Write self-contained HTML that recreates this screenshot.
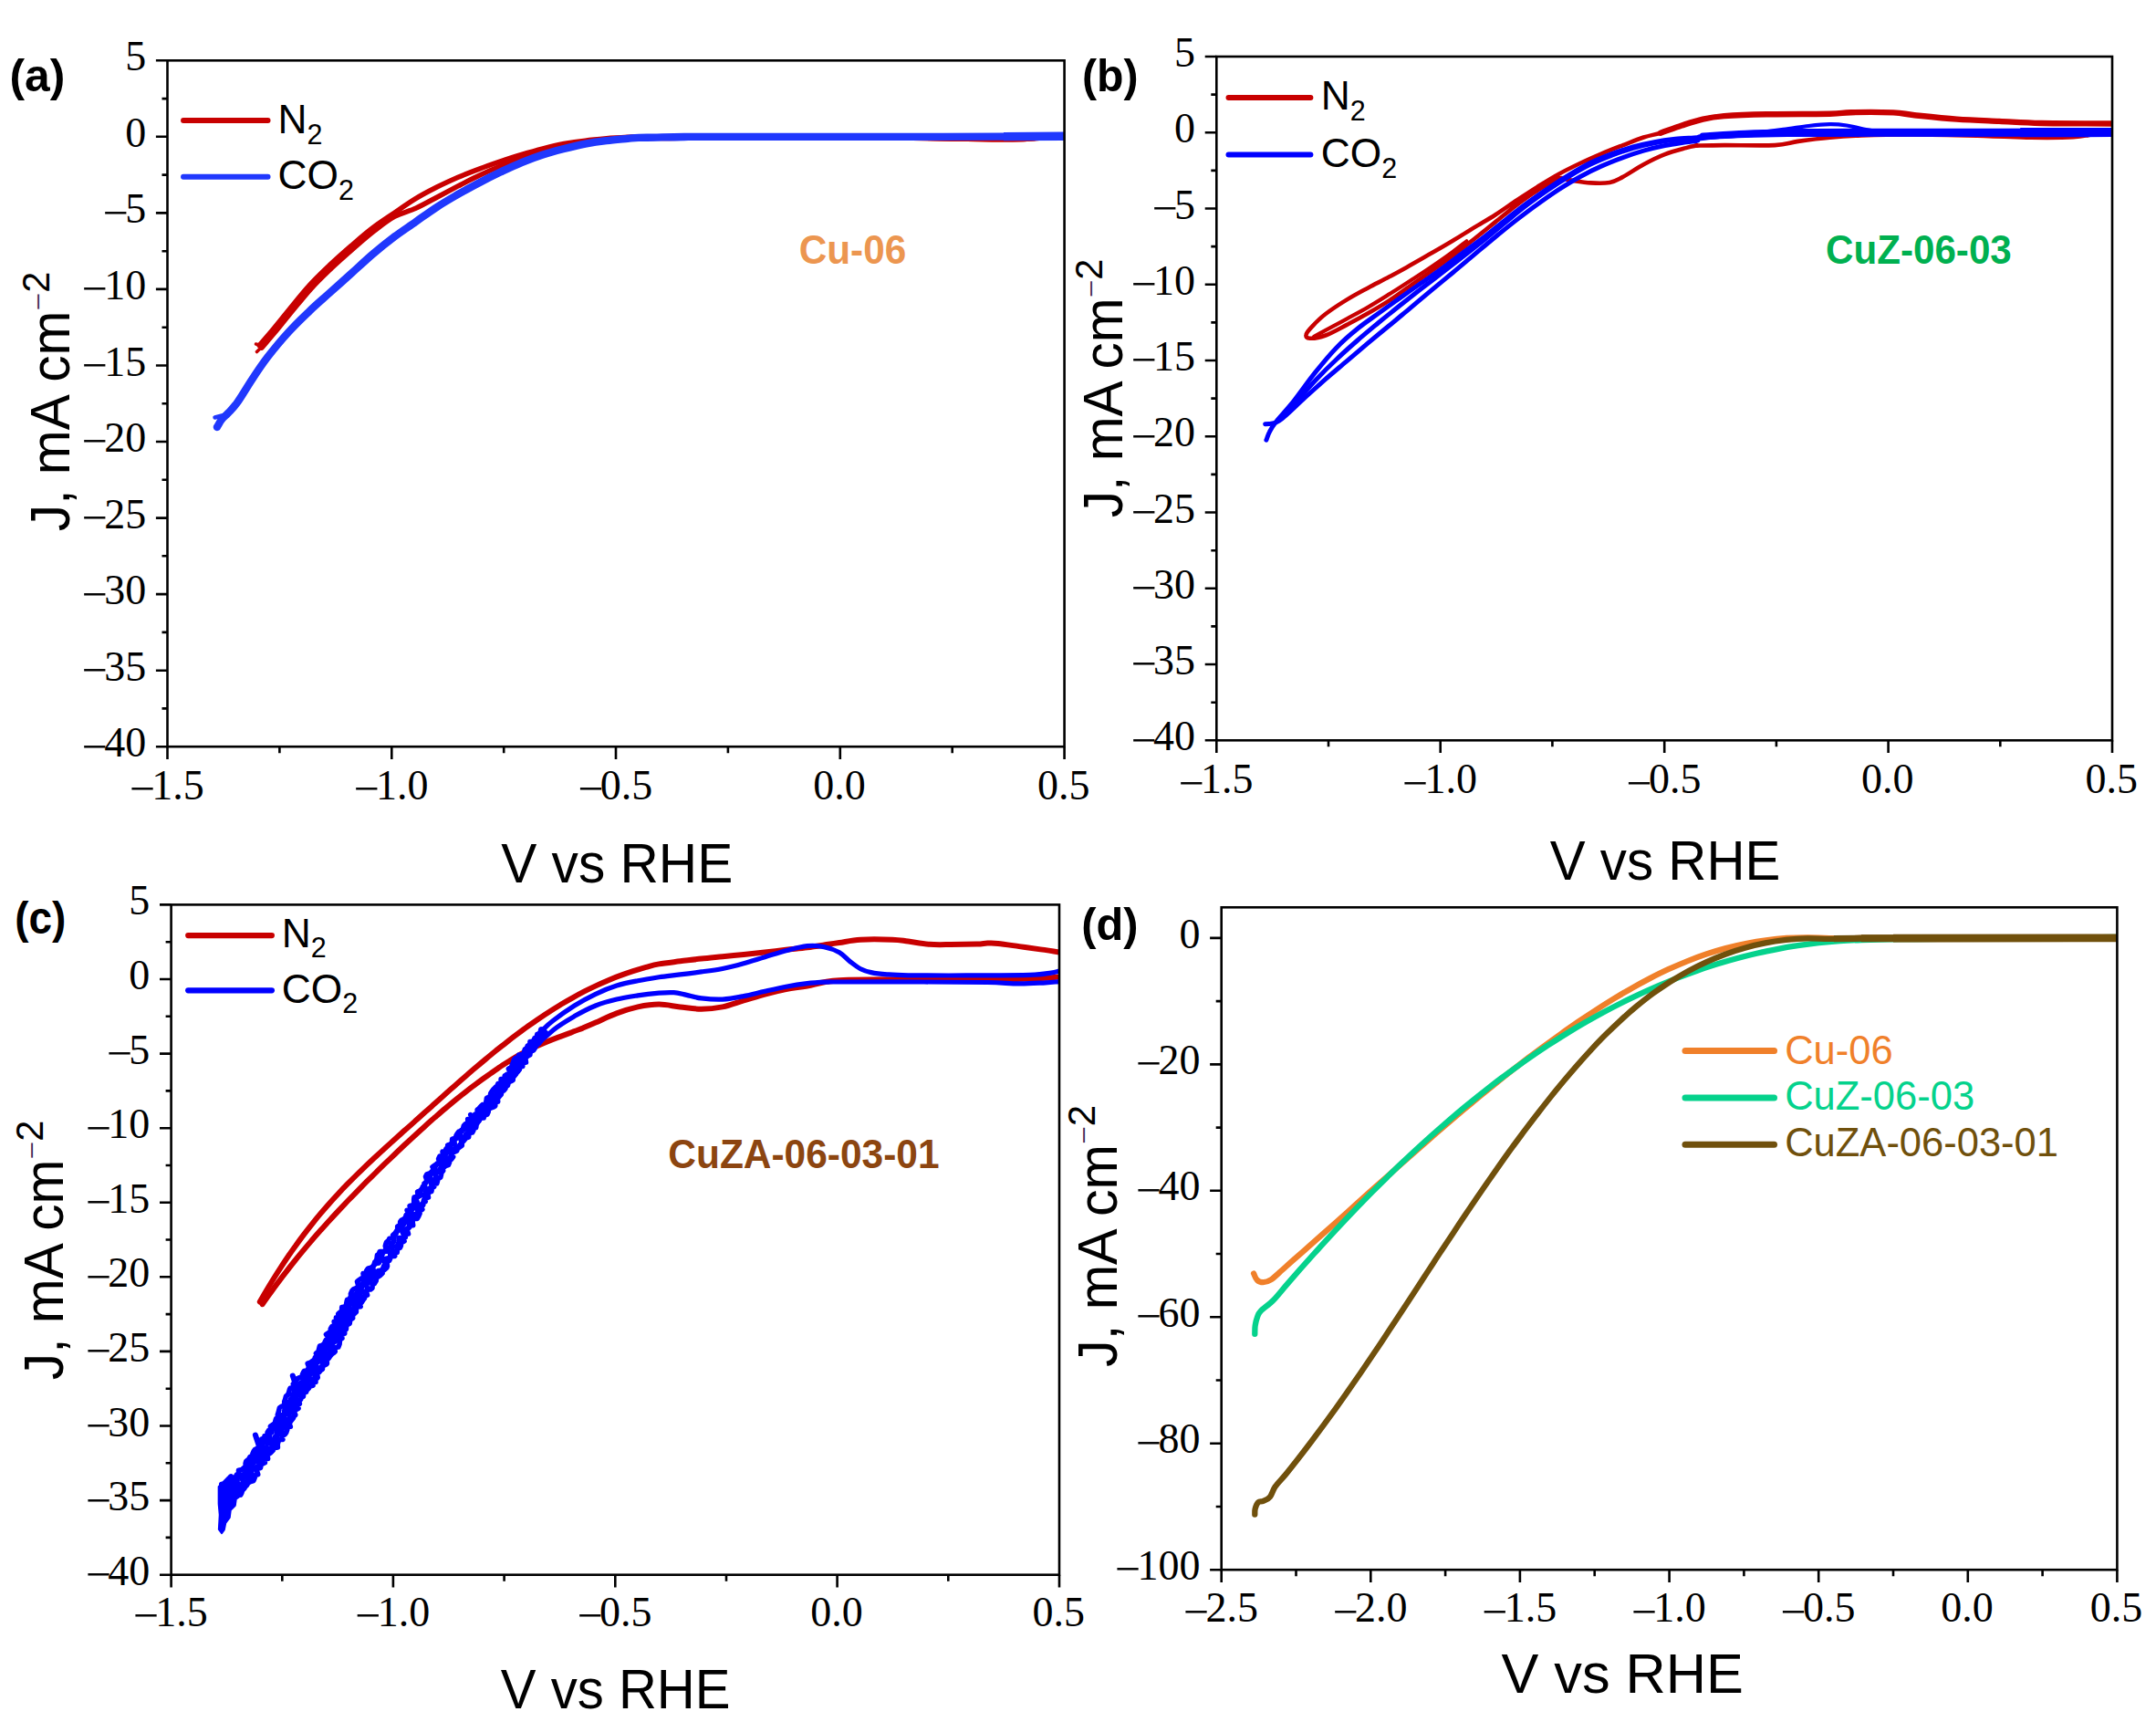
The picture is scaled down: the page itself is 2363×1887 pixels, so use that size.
<!DOCTYPE html>
<html lang="en"><head><meta charset="utf-8"><title>Figure: J vs V (RHE) for Cu-06, CuZ-06-03, CuZA-06-03-01</title>
<style>html,body{margin:0;padding:0;background:#fff}svg{display:block}text{white-space:pre}</style></head>
<body>
<svg xmlns="http://www.w3.org/2000/svg" width="2363" height="1887" viewBox="0 0 2363 1887">
<rect width="2363" height="1887" fill="#fff"/>
<defs><clipPath id="clip-a"><rect x="183.5" y="66.3" width="983.1" height="751.9"/></clipPath><clipPath id="clip-b"><rect x="1333.3" y="62" width="981.7" height="749.3"/></clipPath><clipPath id="clip-c"><rect x="187.6" y="991.4" width="973.4" height="734.3"/></clipPath><clipPath id="clip-d"><rect x="1338.7" y="994.3" width="981.7" height="725.9"/></clipPath></defs>
<g id="curves">
<g clip-path="url(#clip-a)">
<path d="M284.2 378.5C289 372.9 293.5 367.8 298.6 361.7C303.7 355.6 308.3 349.7 314.9 341.7C321.5 333.8 330.4 322.4 338.1 313.9C345.8 305.3 353.6 298 361.3 290.6C369.1 283.3 376.8 276.5 384.6 269.7C392.3 263 399.8 256.3 407.8 250.2C415.8 244.1 424.4 238.6 432.3 233.2C440.3 227.7 447.8 222.3 455.6 217.6C463.3 212.9 471.1 208.9 478.8 205C486.6 201.2 494.3 197.7 502 194.3C509.8 191 517.5 188 525.3 185.1C533 182.2 540.8 179.5 548.5 176.9C556.3 174.3 564 171.8 571.7 169.5C579.5 167.2 587.2 165 595 163C602.7 161 610.5 159.1 618.2 157.6C626 156.2 633.7 155.1 641.4 154.2C649.2 153.2 656.9 152.5 664.7 151.8C672.4 151.2 682 150.7 687.9 150.4C693.8 150.1 694.7 149.8 700 150C705.3 150.1 710 151.1 720 151.3C730 151.5 746.7 151.1 760 151C773.3 150.9 776.7 151 800 151C823.3 151 866.7 151.1 900 151.2C933.3 151.2 973.3 151.1 1000 151.3C1026.7 151.5 1041.7 152.1 1060 152.3C1078.3 152.6 1097.5 152.9 1110 152.8C1122.5 152.7 1128.3 152.1 1135 151.5C1141.7 150.9 1144.8 149.9 1150 149.5C1155.2 149.1 1160.7 149.2 1166 149" stroke="#C80000" stroke-width="5.6" fill="none" stroke-linecap="round" stroke-linejoin="round"/>
<path d="M286.8 381.1C291.6 375.5 296.1 370.4 301.2 364.3C306.3 358.2 310.9 352.3 317.5 344.3C324.1 336.4 333 325 340.7 316.5C348.4 307.9 356.2 300.6 363.9 293.2C371.7 285.9 379.4 279.1 387.2 272.3C394.9 265.6 402.9 258.6 410.4 252.8C417.9 247 424.8 241.4 432.3 237.3C439.9 233.2 447.8 231.8 455.6 228.3C463.3 224.7 471.1 220.3 478.8 216.2C486.6 212.1 494.3 207.9 502 203.9C509.8 199.9 517.5 195.9 525.3 192.3C533 188.6 540.8 185.2 548.5 182C556.3 178.9 564 175.9 571.7 173.2C579.5 170.5 587.2 167.9 595 165.8C602.7 163.6 610.5 162 618.2 160.4C626 158.9 633.7 157.6 641.4 156.5C649.2 155.4 656.9 154.7 664.7 153.9C672.4 153.2 682 152.5 687.9 152.1C693.8 151.6 694.7 151.5 700 151.4C705.3 151.2 710 151.4 720 151.3C730 151.2 746.7 151.1 760 151C773.3 150.9 776.7 151 800 151C823.3 151 866.7 151.1 900 151.2C933.3 151.2 973.3 151.1 1000 151.3C1026.7 151.5 1041.7 152.1 1060 152.3C1078.3 152.6 1097.5 152.9 1110 152.8C1122.5 152.7 1128.3 152.1 1135 151.5C1141.7 150.9 1144.8 149.9 1150 149.5C1155.2 149.1 1160.7 149.2 1166 149" stroke="#C80000" stroke-width="5.6" fill="none" stroke-linecap="round" stroke-linejoin="round"/>
<path d="M280.5 377L286 378.5" stroke="#C80000" stroke-width="3.6" fill="none" stroke-linecap="round" stroke-linejoin="round"/>
<path d="M281.5 385.5L286 381" stroke="#C80000" stroke-width="3.6" fill="none" stroke-linecap="round" stroke-linejoin="round"/>
<path d="M237.9 468C239.6 465.3 241 462.2 243 459.7C245 457.1 247 455.9 250 452.7C252.9 449.5 256 446.9 260.4 440.6C264.9 434.4 271.3 423.2 276.7 415.1C282.1 406.9 286.4 400.4 292.9 391.8C299.5 383.3 308.4 372.5 316.2 364C323.9 355.4 331.7 348.1 339.4 340.7C347.1 333.4 354.9 326.8 362.6 319.8C370.4 312.8 378.1 305.9 385.9 298.9C393.6 291.9 401.4 284.6 409.1 278C416.9 271.4 424.6 265.2 432.3 259.4C440.1 253.6 447.8 248.6 455.6 243.1C463.3 237.7 471.1 231.9 478.8 226.9C486.6 221.8 494.3 217.4 502 212.9C509.8 208.5 517.5 204.2 525.3 200.2C533 196.1 540.8 192.2 548.5 188.5C556.3 184.9 564 181.3 571.7 178.1C579.5 174.9 587.2 172 595 169.5C602.7 167 610.5 165 618.2 163C626 161 633.7 159.1 641.4 157.6C649.2 156.2 656.9 155.1 664.7 154.2C672.4 153.2 682 152.4 687.9 151.8C693.8 151.3 694.7 151.1 700 150.9C705.3 150.7 711.7 150.8 720 150.6C728.3 150.4 736.7 150.1 750 150C763.3 149.9 775 149.8 800 149.8C825 149.8 866.7 149.8 900 149.8C933.3 149.8 966.7 149.8 1000 149.8C1033.3 149.8 1072.3 149.8 1100 149.7C1127.7 149.6 1144 149.4 1166 149.3" stroke="#2038FD" stroke-width="8.3" fill="none" stroke-linecap="round" stroke-linejoin="round"/>
<path d="M235.5 457.5L247 454.5" stroke="#2038FD" stroke-width="4.5" fill="none" stroke-linecap="round" stroke-linejoin="round"/>
<path d="M1100 149.6L1166 149.3" stroke="#2038FD" stroke-width="9.4" fill="none" stroke-linecap="butt" stroke-linejoin="round"/>
</g>
<g clip-path="url(#clip-b)">
<path d="M2314 135.5C2288.5 135.3 2257.9 135.4 2237.4 135C2217 134.6 2206.5 133.6 2191.1 132.9C2175.6 132.2 2160.1 131.7 2144.7 130.6C2129.2 129.5 2109.9 127.4 2098.3 126.2C2086.7 125 2086.7 123.9 2075.1 123.4C2063.5 122.9 2040.3 122.9 2028.7 123.2C2017.1 123.4 2021 124.4 2005.5 124.8C1990.1 125.1 1955.3 124.9 1936 125.3C1916.6 125.6 1901.2 126.2 1889.6 127.1C1878 128 1874.1 128.8 1866.4 130.6C1858.7 132.3 1850.9 135 1843.2 137.5C1835.5 140.1 1827 143.5 1820 145.7C1813 147.8 1808.4 148.2 1801.4 150.5C1794.5 152.7 1786 156.3 1778.2 159.3C1770.5 162.3 1762.7 165.3 1755 168.6C1747.2 171.9 1739.5 175.4 1731.7 179C1724 182.7 1716.3 186.4 1708.5 190.7C1700.8 194.9 1693 199.8 1685.3 204.6C1677.5 209.4 1669.8 214.6 1662 219.7C1654.3 224.9 1646.6 230.5 1638.8 235.5C1631.1 240.5 1623.3 244.7 1615.6 249.4C1607.8 254.2 1600.1 259.2 1592.3 263.8C1584.6 268.5 1576.9 272.9 1569.1 277.3C1561.4 281.8 1553.6 286.2 1545.9 290.6C1538.1 294.9 1530.4 299.2 1522.6 303.3C1514.9 307.5 1507.1 311.2 1499.4 315.4C1491.7 319.6 1483.9 323.7 1476.2 328.4C1468.4 333.2 1459.1 339.3 1452.9 344C1446.7 348.7 1442.6 353 1439 356.8C1435.4 360.5 1432.1 364.2 1431.6 366.5C1431 368.9 1431.9 370.6 1435.5 370.7C1439.1 370.9 1446.2 370 1452.9 367.5C1459.7 365 1468.4 359.9 1476.2 355.9C1483.9 351.8 1491.7 347.7 1499.4 343.3C1507.1 338.9 1514.9 334.4 1522.6 329.4C1530.4 324.3 1538.1 318.5 1545.9 313.1C1553.6 307.7 1561.4 302.3 1569.1 296.8C1576.9 291.3 1584.6 285.9 1592.3 280.1C1600.1 274.3 1607.8 268.1 1615.6 262C1623.3 255.9 1631.1 249.6 1638.8 243.4C1646.6 237.2 1654.3 230.6 1662 224.8C1669.8 219 1677.5 213.4 1685.3 208.6C1693 203.7 1702.7 197.4 1708.5 195.5C1714.3 193.7 1714.3 196.6 1720.1 197.4C1725.9 198.2 1736 200 1743.4 200.4C1750.7 200.8 1758.5 201 1764.3 200C1770.1 198.9 1772 197.4 1778.2 194.1C1784.4 190.9 1793.7 184.4 1801.4 180.2C1809.2 176 1816.9 172.1 1824.7 169.1C1832.4 166 1842 163.7 1847.9 162.1C1853.8 160.5 1858 159.9 1860 159.5C1862 159.1 1855 159.6 1859.9 159.6C1864.8 159.5 1875.3 159.2 1889.6 159.1C1903.8 159 1931.7 159.8 1945.2 159.1C1958.8 158.4 1960.7 156.3 1970.7 154.9C1980.8 153.5 1993.9 151.8 2005.5 150.8C2017.1 149.7 2024.9 149 2040.3 148.4C2055.8 147.9 2075.1 147.4 2098.3 147.5C2121.5 147.6 2158.2 148.6 2179.5 149.1C2200.7 149.7 2210.4 150.6 2225.8 150.8C2241.3 151 2260.6 151 2272.2 150.3C2283.8 149.6 2288.5 147.9 2295.4 146.8C2302.4 145.7 2307.8 144.8 2314 143.8" stroke="#C80000" stroke-width="4.6" fill="none" stroke-linecap="round" stroke-linejoin="round"/>
<path d="M1440.2 368.9C1444.4 366.5 1446.9 365.1 1452.9 361.9C1458.9 358.6 1468.4 353.6 1476.2 349.3C1483.9 345.1 1491.7 341.1 1499.4 336.6C1507.1 332.1 1514.9 327.2 1522.6 322.4C1530.4 317.6 1538.1 312.6 1545.9 307.5C1553.6 302.5 1561.4 297.5 1569.1 292.2C1576.9 286.9 1586 280.6 1592.3 275.9C1598.7 271.3 1602.4 268.2 1607.4 264.3" stroke="#C80000" stroke-width="4.2" fill="none" stroke-linecap="round" stroke-linejoin="round"/>
<path d="M2314 135.5C2288.5 135.3 2257.9 135.4 2237.4 135C2217 134.6 2206.5 133.6 2191.1 132.9C2175.6 132.2 2160.1 131.7 2144.7 130.6C2129.2 129.5 2109.9 127.4 2098.3 126.2C2086.7 125 2086.7 123.9 2075.1 123.4C2063.5 122.9 2040.3 122.9 2028.7 123.2C2017.1 123.4 2021 124.4 2005.5 124.8C1990.1 125.1 1955.3 124.9 1936 125.3C1916.6 125.6 1901.2 126.2 1889.6 127.1C1878 128 1874.1 128.8 1866.4 130.6C1858.7 132.3 1850.9 135 1843.2 137.5C1835.5 140.1 1827.7 143 1820 145.7" stroke="#C80000" stroke-width="6.4" fill="none" stroke-linecap="round" stroke-linejoin="round"/>
<path d="M1387.9 482.2C1389 479.3 1389.6 476.7 1391.4 473.4C1393.1 470.1 1393.9 468.2 1398.3 462.5C1402.8 456.8 1410.9 448.3 1418.1 439.3C1425.2 430.2 1433.6 418 1441.3 408.4C1449.1 398.7 1456.8 389.2 1464.6 381.2C1472.3 373.2 1480 366.6 1487.8 360.3C1495.5 354 1503.3 348.9 1511 343.3C1518.8 337.7 1526.5 332.1 1534.3 326.6C1542 321.1 1549.7 315.7 1557.5 310.3C1565.2 304.9 1573 299.7 1580.7 294.1C1588.5 288.4 1596.2 282.4 1604 276.6C1611.7 270.8 1619.4 265.2 1627.2 259.2C1634.9 253.2 1642.7 246.7 1650.4 240.6C1658.2 234.5 1665.9 228.2 1673.7 222.5C1681.4 216.8 1689.2 211.4 1696.9 206.2C1704.6 201 1712.4 196 1720.1 191.4C1727.9 186.7 1735.6 182.1 1743.4 178.3C1751.1 174.6 1758.9 171.5 1766.6 168.6C1774.3 165.7 1782.1 163.1 1789.8 160.9C1797.6 158.8 1805.3 157 1813.1 155.6C1820.8 154.1 1828.5 153.1 1836.3 152.3C1844.1 151.5 1855 151.2 1860 150.7C1865 150.2 1857.6 150.1 1866.4 149.4C1875.2 148.7 1897.3 147.2 1912.8 146.6C1928.2 145.9 1936 145.7 1959.1 145.4C1982.3 145.2 2013.3 145.2 2051.9 145.2C2090.6 145.2 2147.4 145.3 2191.1 145.2C2234.7 145.1 2273 144.9 2314 144.7" stroke="#0000FF" stroke-width="5.0" fill="none" stroke-linecap="round" stroke-linejoin="round"/>
<path d="M1400.7 460.2C1406.5 454.5 1411.3 450.4 1418.1 443.2C1424.9 436.1 1433.6 425.4 1441.3 417.2C1449.1 409 1456.8 401.3 1464.6 394C1472.3 386.6 1480 379.8 1487.8 373C1495.5 366.3 1503.3 359.9 1511 353.5C1518.8 347.1 1526.5 340.9 1534.3 334.7C1542 328.6 1549.7 322.6 1557.5 316.6C1565.2 310.6 1573 304.7 1580.7 298.7C1588.5 292.7 1596.2 286.8 1604 280.8C1611.7 274.8 1619.4 268.7 1627.2 262.5C1634.9 256.2 1642.7 249.5 1650.4 243.2C1658.2 236.9 1665.9 230.5 1673.7 224.6C1681.4 218.7 1689.2 213.1 1696.9 207.9C1704.6 202.6 1712.4 197.6 1720.1 193C1727.9 188.3 1735.6 183.8 1743.4 180C1751.1 176.2 1758.9 173.2 1766.6 170.2C1774.3 167.3 1782.1 164.6 1789.8 162.3C1797.6 160.1 1805.3 158.2 1813.1 156.7C1820.8 155.2 1828.5 154.1 1836.3 153.3C1844.1 152.4 1855 151.9 1860 151.4C1865 150.9 1857.6 151 1866.4 150.4C1875.2 149.7 1897.3 148.2 1912.8 147.6C1928.2 146.9 1936 146.7 1959.1 146.4C1982.3 146.2 2013.3 146.2 2051.9 146.2C2090.6 146.2 2147.4 146.3 2191.1 146.2C2234.7 146.1 2273 145.9 2314 145.7" stroke="#0000FF" stroke-width="5.0" fill="none" stroke-linecap="round" stroke-linejoin="round"/>
<path d="M1386.7 464.8C1391.8 463.7 1394.7 466.1 1401.8 461.3C1409 456.6 1421.2 443.9 1429.7 436.2C1438.2 428.6 1445.2 422.1 1452.9 415.3C1460.7 408.6 1468.4 402.2 1476.2 395.6C1483.9 389 1491.7 382.3 1499.4 375.8C1507.1 369.4 1514.9 363.2 1522.6 356.8C1530.4 350.4 1538.1 343.8 1545.9 337.3C1553.6 330.8 1561.4 324.2 1569.1 317.8C1576.9 311.3 1584.6 305.1 1592.3 298.7C1600.1 292.3 1607.8 285.7 1615.6 279.2C1623.3 272.7 1631.1 266 1638.8 259.7C1646.6 253.3 1654.3 247.1 1662 241.1C1669.8 235.1 1677.5 229.2 1685.3 223.7C1693 218.1 1700.8 212.6 1708.5 207.6C1716.3 202.6 1724 197.9 1731.7 193.7C1739.5 189.4 1747.2 185.5 1755 182.1C1762.7 178.6 1770.5 175.6 1778.2 172.8C1786 169.9 1793.7 167.3 1801.4 165.1C1809.2 162.9 1816.9 161.1 1824.7 159.5C1832.4 158 1842 156.7 1847.9 155.8C1853.8 154.9 1856.9 154.9 1860 154.2C1863.1 153.4 1857.6 152.3 1866.4 151.4C1875.2 150.4 1897.3 149.2 1912.8 148.6C1928.2 147.9 1936 147.7 1959.1 147.4C1982.3 147.2 2013.3 147.2 2051.9 147.2C2090.6 147.2 2147.4 147.3 2191.1 147.2C2234.7 147.1 2273 146.9 2314 146.7" stroke="#0000FF" stroke-width="5.0" fill="none" stroke-linecap="round" stroke-linejoin="round"/>
<path d="M1866.4 149.4C1881.8 148.4 1897.3 147.2 1912.8 146.6C1928.2 145.9 1936 145.7 1959.1 145.4C1982.3 145.2 2013.3 145.2 2051.9 145.2C2090.6 145.2 2147.4 145.3 2191.1 145.2C2234.7 145.1 2273 144.9 2314 144.7" stroke="#0000FF" stroke-width="7.6" fill="none" stroke-linecap="round" stroke-linejoin="round"/>
<path d="M1959.1 145.4C1990.1 145.3 2013.3 145.2 2051.9 145.2C2090.6 145.2 2147.4 145.3 2191.1 145.2C2234.7 145.1 2273 144.9 2314 144.7" stroke="#0000FF" stroke-width="8.8" fill="none" stroke-linecap="round" stroke-linejoin="round"/>
<path d="M2214.2 145.2L2314 145" stroke="#0000FF" stroke-width="10.2" fill="none" stroke-linecap="butt" stroke-linejoin="round"/>
<path d="M1924.4 145.7C1934.4 144.4 1944.8 143.2 1954.5 141.9C1964.2 140.7 1973.8 139 1982.3 138C1990.8 137 1998.6 136.2 2005.5 136.2C2012.5 136.1 2018.3 136.7 2024.1 137.5C2029.9 138.4 2034.5 139.9 2040.3 141C2046.1 142.1 2052.7 143.2 2058.9 144.3" stroke="#0000FF" stroke-width="4.2" fill="none" stroke-linecap="round" stroke-linejoin="round"/>
</g>
<g clip-path="url(#clip-c)">
<path d="M1161.2 1043.5C1154.2 1042.4 1147.7 1041.4 1140.3 1040.4C1133 1039.3 1124.9 1038.2 1117.1 1037.1C1109.4 1036 1099.7 1034.4 1093.9 1033.9C1088.1 1033.3 1086.2 1033.5 1082.3 1033.6C1078.5 1033.7 1077.5 1034.3 1070.7 1034.6C1064 1034.8 1050.4 1035 1041.8 1035C1033.1 1035.1 1026.3 1035.4 1018.6 1034.8C1010.8 1034.2 1002.1 1032.4 995.4 1031.5C988.6 1030.7 986.7 1030 978 1029.7C969.3 1029.4 952.9 1029.1 943.2 1029.7C933.5 1030.2 925.9 1032.2 920 1033C914.1 1033.9 913.8 1033.9 907.9 1034.8C902 1035.7 892.4 1037.3 884.7 1038.3C876.9 1039.3 869.2 1039.9 861.5 1040.8C853.8 1041.7 846 1042.7 838.3 1043.6C830.6 1044.4 822.8 1045.1 815.1 1045.9C807.4 1046.7 799.6 1047.5 791.9 1048.2C784.2 1049 776.5 1049.7 768.7 1050.6C761 1051.4 753.3 1052.4 745.5 1053.3C737.8 1054.3 728.6 1055.3 722.3 1056.4C716.1 1057.4 712.7 1058.6 708 1059.9C703.2 1061.2 698.6 1062.6 693.9 1064.1C689.3 1065.6 684.7 1067.2 680.2 1068.9C675.6 1070.5 671.1 1072.3 666.7 1074.2C662.2 1076.1 657.8 1078 653.4 1080.1C649.1 1082.1 644.7 1084.2 640.4 1086.4C636.2 1088.6 631.9 1090.9 627.7 1093.3C623.5 1095.6 619.3 1098 615.1 1100.5C611 1103 606.9 1105.6 602.8 1108.2C598.7 1110.8 594.7 1113.5 590.7 1116.2C586.7 1118.9 582.7 1121.7 578.7 1124.5C574.7 1127.4 570.8 1130.3 566.9 1133.2C563 1136.1 559.1 1139.1 555.3 1142.1C551.4 1145.1 547.6 1148.2 543.7 1151.2C539.9 1154.3 536.1 1157.4 532.3 1160.6C528.6 1163.7 524.8 1166.9 521.1 1170.1C517.3 1173.3 513.6 1176.5 509.9 1179.7C506.2 1182.9 502.5 1186.2 498.8 1189.4C495.1 1192.7 491.4 1195.9 487.7 1199.2C484.1 1202.5 480.4 1205.8 476.8 1209C473.1 1212.3 469.5 1215.6 465.8 1218.8C462.2 1222.1 458.6 1225.4 454.9 1228.6C451.3 1231.9 447.7 1235.1 444 1238.3C440.4 1241.6 436.8 1244.8 433.2 1248C429.6 1251.3 426 1254.5 422.4 1257.8C418.9 1261 415.3 1264.3 411.8 1267.5C408.2 1270.8 404.7 1274.1 401.2 1277.4C397.7 1280.8 394.2 1284.1 390.8 1287.5C387.4 1290.9 384 1294.3 380.6 1297.7C377.2 1301.1 373.9 1304.6 370.6 1308.2C367.3 1311.7 364 1315.3 360.8 1318.9C357.6 1322.5 354.4 1326.2 351.3 1329.9C348.1 1333.7 345 1337.5 342 1341.3C338.9 1345.1 335.9 1349 333 1352.9C330 1356.8 327.1 1360.8 324.3 1364.8C321.4 1368.7 318.6 1372.8 315.8 1376.8C313 1380.9 310.3 1385 307.6 1389.1C304.9 1393.2 302.3 1397.3 299.7 1401.5C297.1 1405.6 294.6 1409.8 292.1 1414C289.6 1418.2 287.2 1422.4 284.8 1426.6" stroke="#C80000" stroke-width="6.0" fill="none" stroke-linecap="round" stroke-linejoin="round"/>
<path d="M1161.2 1070.4C1154.2 1071 1149.6 1071.6 1140.3 1072.1C1131 1072.6 1126.8 1073.1 1105.5 1073.3C1084.3 1073.5 1043.7 1073.1 1012.8 1073.3C981.8 1073.4 941.3 1073 920 1074.2C898.7 1075.4 894.4 1078.8 884.7 1080.5C874.9 1082.1 869.2 1082.4 861.5 1084C853.8 1085.5 846 1087.4 838.3 1089.5C830.6 1091.6 822.8 1094.2 815.1 1096.5C807.4 1098.8 799.6 1101.9 791.9 1103.4C784.2 1105 776.5 1105.8 768.7 1105.8C761 1105.8 753.3 1104.3 745.5 1103.4C737.8 1102.6 730.1 1100.6 722.3 1100.6C714.6 1100.6 706.9 1101.8 699.1 1103.4C691.4 1105.1 683.7 1107.5 676 1110.4C668.2 1113.2 659 1117.9 652.8 1120.6C646.6 1123.3 643.3 1124.7 638.7 1126.6C634 1128.4 629.4 1130.1 624.9 1131.9C620.3 1133.6 615.8 1135.2 611.3 1136.9C606.8 1138.6 602.4 1140.3 598 1142.1C593.6 1143.9 589.3 1145.8 585 1147.9C580.6 1149.9 576.4 1152.2 572.1 1154.5C567.9 1156.8 563.7 1159.3 559.5 1161.9C555.4 1164.5 551.2 1167.1 547.1 1169.8C543 1172.6 539 1175.3 535 1178.2C530.9 1181 526.9 1183.9 523 1186.9C519 1189.8 515.1 1192.8 511.2 1195.8C507.3 1198.9 503.4 1202 499.5 1205.1C495.7 1208.2 491.9 1211.4 488.1 1214.6C484.3 1217.8 480.5 1221.1 476.8 1224.3C473.1 1227.6 469.3 1230.9 465.7 1234.2C462 1237.5 458.3 1240.9 454.7 1244.2C451 1247.6 447.4 1250.9 443.8 1254.3C440.2 1257.7 436.6 1261.1 433.1 1264.5C429.5 1267.9 426 1271.3 422.4 1274.7C418.9 1278.1 415.4 1281.5 411.9 1285C408.4 1288.4 405 1291.8 401.5 1295.2C398.1 1298.7 394.7 1302.1 391.3 1305.6C387.9 1309.1 384.5 1312.5 381.1 1316C377.8 1319.5 374.4 1323 371.1 1326.6C367.8 1330.1 364.5 1333.7 361.3 1337.2C358 1340.8 354.8 1344.4 351.5 1348.1C348.3 1351.7 345.1 1355.3 341.9 1359C338.8 1362.7 335.6 1366.4 332.5 1370.2C329.4 1373.9 326.3 1377.7 323.2 1381.5C320.1 1385.3 317.1 1389.2 314.1 1393.1C311 1397 308 1400.9 305.1 1404.9C302.1 1408.8 299.2 1412.8 296.3 1416.9C293.3 1420.9 290.5 1425.1 287.6 1429.2" stroke="#C80000" stroke-width="6.0" fill="none" stroke-linecap="round" stroke-linejoin="round"/>
<path d="M1161.2 1064C1158.1 1064.7 1157.3 1065.4 1151.9 1066.1C1146.5 1066.8 1144.2 1067.9 1128.7 1068.4C1113.3 1068.9 1081.4 1068.8 1059.1 1068.9C1036.9 1069 1009.9 1069.1 995.4 1068.9C980.9 1068.7 978.9 1068.4 972.2 1067.8C965.4 1067.3 959.6 1066.7 954.8 1065.6C950 1064.6 947.1 1063.7 943.2 1061.7C939.3 1059.7 935.5 1056.6 931.6 1053.6C927.7 1050.6 924.7 1046.4 920 1043.7C915.3 1041 909.1 1038.7 903.2 1037.6C897.3 1036.4 891.6 1035.9 884.7 1036.6C877.7 1037.3 869.2 1039.7 861.5 1041.7C853.8 1043.8 846 1046.4 838.3 1048.7C830.6 1051 822.8 1053.5 815.1 1055.7C807.4 1057.8 799.6 1059.9 791.9 1061.5C784.2 1063 776.5 1063.9 768.7 1064.9C761 1066 753.3 1067 745.5 1067.9C737.8 1068.9 730.1 1069.6 722.3 1070.7C714.6 1071.9 706.9 1073.1 699.1 1074.7C691.4 1076.2 683.7 1077.6 676 1080C668.2 1082.4 660.5 1085.6 652.8 1089.3C645 1093 637.3 1097.2 629.6 1102C621.8 1106.9 612.2 1113.8 606.4 1118.3C600.6 1122.7 598.7 1124.8 594.8 1128.7C590.9 1132.7 587.1 1136.7 583.2 1141.9C579.3 1147.1 575.5 1154.2 571.6 1160C567.7 1165.8 563.9 1171.2 560 1176.7" stroke="#0000FF" stroke-width="5.2" fill="none" stroke-linecap="round" stroke-linejoin="round"/>
<path d="M1161.2 1075.6C1156.2 1076 1153.5 1076.4 1146.1 1076.8C1138.8 1077.1 1127.8 1078 1117.1 1077.9C1106.5 1077.9 1099.7 1076.9 1082.3 1076.5C1064.9 1076.2 1039.8 1076 1012.8 1076C985.7 1075.9 937.5 1075.9 920 1076C902.5 1076 913.8 1075.8 907.9 1076.1C902 1076.4 892.4 1076.8 884.7 1077.7C876.9 1078.5 869.2 1079.7 861.5 1081.2C853.8 1082.6 846 1084.5 838.3 1086.3C830.6 1088 822.8 1090.1 815.1 1091.6C807.4 1093.1 799.6 1094.7 791.9 1095.1C784.2 1095.5 775.3 1094.7 768.7 1093.9C762.1 1093.2 757.5 1091.5 752.5 1090.4C747.5 1089.4 743.6 1088 738.6 1087.7C733.5 1087.3 728.9 1087.6 722.3 1088.1C715.8 1088.7 706.9 1089.7 699.1 1090.9C691.4 1092.1 683.7 1093.2 676 1095.1C668.2 1096.9 660.5 1098.9 652.8 1102C645 1105.1 637.3 1109.2 629.6 1113.6C621.8 1118.1 614.1 1122.5 606.4 1128.7C598.7 1134.9 590.9 1142 583.2 1150.7C575.5 1159.5 567.7 1171.2 560 1181.4" stroke="#0000FF" stroke-width="5.2" fill="none" stroke-linecap="round" stroke-linejoin="round"/>
<path d="M598.6 1132L594.6 1132.7L593.5 1134.6L591.6 1136.7L592.6 1140.7L590.7 1143.5L586.7 1142.4L586.9 1146.8L586.3 1148.5L584.7 1150.9L581 1152.5L580.9 1155.8L578.3 1156.9L576.6 1157.4L575.8 1160L576.5 1164.1L572.2 1164.6L572.8 1168.6L569.3 1168.2L569.3 1172L566.7 1172.5L565.7 1176.7L564.2 1178.5L562.2 1180L562.2 1183.5L560 1184.7L557.3 1185.9L556.5 1189.5L553.7 1190.8L553.3 1192.5L550.5 1194.9L549.7 1197.1L549.2 1199.4L547.8 1201L545.3 1203.9L545.7 1207.3L542.7 1207.2L542.8 1211.8L540.7 1213.2L537.2 1214.4L535.1 1215.9L535.2 1218.4L534 1221.2L530.4 1222.5L530.2 1225L526.1 1224.9L525 1227.9L523.6 1229.9L522.1 1232.5L521.7 1235.7L518.4 1234.8L518.8 1238.9L517.6 1241L514.1 1241.5L513.6 1246.1L511.3 1246.7L509.7 1248.3L508.3 1250.2L506.3 1252L506.3 1255.2L503.1 1257.5L500.9 1259.2L500.8 1260.9L498.2 1262.2L495.5 1263.8L496.7 1267.6L494.5 1270.6L490.8 1270.5L492.6 1273.8L491.4 1276.7L487.6 1277.9L485.2 1279.8L485.7 1283L483.9 1285L483.3 1288.1L482.8 1290.2L480 1291.9L479.3 1294.7L478.7 1297L474.9 1297.2L475.7 1300.5L473.5 1301.9L472.9 1305.6L470.6 1306.2L468.8 1308.8L469.5 1312.1L466.9 1312.8L466.2 1316.7L464.4 1317.6L463.7 1320.6L461 1322.9L462.8 1325.3L460.2 1326.9L460 1330L458.6 1333.2L457.3 1335.4L453 1335.3L452.1 1338.7L452.7 1342.8L449.7 1343L448 1344.6L446.3 1348L447.5 1352.1L443.7 1352.8L444.3 1356L441.4 1356.5L443.1 1360.1L439.5 1361.9L439.4 1365.2L438.4 1367.4L435.5 1368.2L435.2 1372.4L431.1 1372.3L432.7 1376.4L427.7 1376.6L427.9 1378.6L426.7 1381.3L424 1382.2L424.5 1387.4L423.9 1389.2L421.1 1391.7L418.1 1392.9L419.1 1395.3L416.3 1397.9L413.6 1399.5L412.5 1400.3L412.2 1403.6L410.4 1406.4L408.1 1408.1L408 1411.5L406.1 1412.9L402.9 1412.4L401.7 1416.4L402.6 1419.2L399.9 1420.1L399.6 1422.5L398 1424.5L396.1 1427.6L392.8 1427.5L395.1 1431.7L390.8 1432.1L390.4 1434.7L390.4 1437.7L388 1439.8L386.1 1442L386.7 1444.4L383.8 1445.9L383.2 1450.3L381.3 1451.1L379.6 1453.1L379.4 1456.6L377.8 1458.2L377.7 1461.3L374.1 1463L375 1466.6L373 1467.6L372.3 1469.9L372.1 1472.8L370.8 1476.1L366.4 1477L367.3 1480.9L365.7 1482.5L363.6 1483.9L361.5 1486.5L360.4 1488.3L358.2 1490.4L358.4 1494.2L357.6 1495.1L353.3 1497.2L353.5 1500.3L352 1501.2L349.6 1503.8L347.6 1505.4L348.2 1509.7L345.6 1511.2L346 1514.4L341.9 1513.6L343 1518.3L339.3 1519.1L338.5 1521.1L335.8 1523.6L335.7 1525.4L332.8 1526.1L332.4 1530.1L330.3 1531.6L329.7 1533.5L327.8 1534.4L328.4 1538.4L326.2 1539.8L327.1 1543.3L324.3 1544.9L322.3 1546.7L323.8 1550.5L322.4 1551.7L321.2 1554.3L318.6 1557.4L317.1 1559.8L318.3 1563.3L315 1563.6L314.8 1566.6L313.7 1569.9L312.1 1572L309.1 1573.9L309.9 1577.5L306.4 1577.4L305 1579.7L304.2 1583.1L304.4 1586L300.3 1586.7L299.4 1589.1L296.7 1591.9L295.2 1592.9L292.9 1594.4L293.6 1598.4L289.6 1598.6L290.4 1602.7L287.4 1604.1L285.8 1605.9L285.6 1608.4L282 1609.2L281.4 1611.7L282.7 1615.7L279.3 1616.6L279.2 1619.2L277.9 1622.5L274.6 1623.6L272 1624.9L270.6 1627.5L268.8 1629.2L267.9 1630.8L265.5 1633.5L264.8 1636.1L263.8 1638.1" stroke="#0000FF" stroke-width="5.6" fill="none" stroke-linecap="round" stroke-linejoin="round"/>
<path d="M596.7 1129.9L593 1131.8L593.4 1135L593.1 1137.2L590.8 1139.7L589.2 1142.3L588.8 1143.8L586.6 1146.6L584.3 1147.5L582.7 1149.9L581.3 1151.2L579.5 1153.4L578.6 1157L575.2 1157.3L573.2 1158.6L573.5 1162.1L571.8 1164.5L572.1 1167.3L568.9 1168.1L569.1 1172L567.8 1174.1L566.3 1175.3L564.6 1177.5L562.6 1180.6L559.2 1180.8L557.8 1183.2L556.3 1186.2L555.3 1188.7L552.6 1189.5L554 1192.7L552.2 1195L546.9 1195.5L546.5 1196.9L544.9 1200.3L543.1 1202.2L544.5 1205.3L540.1 1206.5L538.4 1207.9L537 1209.6L534.3 1212.2L535.3 1215L532.2 1217L531.7 1218.8L529.4 1221.8L528.3 1224.5L526.8 1225.1L524.8 1228.5L521.2 1227.4L521.8 1232.1L518.2 1231.1L516.4 1234.8L515.6 1237L513.2 1237.6L512.9 1241.6L510.4 1242.7L509.2 1245.9L508 1247.7L504.6 1247.8L506.2 1251.9L504.6 1253.9L502.7 1256.1L500.2 1257.7L497.4 1259.3L496.1 1261L494.5 1263.4L494.9 1266.9L492.6 1268.7L490 1269.3L489.4 1272.5L488.8 1274.4L487.4 1278.4L483.9 1278.2L482.9 1280.3L480.6 1283.3L479.4 1284.7L476.8 1287L479.3 1290.7L476.6 1291.8L474.7 1293.4L472.2 1296.3L473.7 1299.9L471.7 1301.6L468.5 1303.4L467.3 1304.6L466.5 1306.7L465.1 1309.4L465.7 1312.4L464.3 1315.6L464 1317.4L462.4 1319.4L458.8 1321.3L457.6 1324.2L457.9 1325.7L457.3 1329.3L453.7 1331L453.7 1332.8L451.6 1335.9L451.2 1338.8L448 1339.3L448.6 1341.9L448.7 1344.9L444.9 1346.9L442.2 1348.1L441 1350.1L443.1 1353.9L440.7 1356.4L437 1356.6L437.9 1361.2L436.1 1362.9L435.3 1366L431.1 1366.2L430 1367.8L431.9 1372.2L427.1 1372.5L428.5 1376L426.9 1378.6L422.2 1379.5L421.5 1381.9L422.1 1385.6L420.7 1387.3L419.5 1390.5L417.8 1392L414.3 1392.8L412.9 1394.5L410.4 1397L409.4 1399.6L407.9 1399.9L406.9 1402.5L405.1 1405L403.2 1406.2L401.3 1408L403 1412.4L400.4 1415.6L396.4 1415.9L397.6 1419.3L394 1420.1L394.4 1423.8L391.6 1424.6L392.3 1427.4L389.1 1428.9L388.6 1432.3L387.7 1434.6L388.2 1437.2L384.8 1437.5L383.5 1440.2L382.3 1443.2L382.7 1447L381.7 1448L379.7 1449.8L379.3 1453.8L378.2 1455.9L373.9 1456.3L372.6 1459.3L374.4 1461.9L370.1 1464L368.6 1465.9L368.4 1469.2L366.4 1470.7L365 1471.6L363.9 1475L365.5 1478.5L361.3 1479.5L360.7 1481.8L358.8 1484.9L356.2 1485.7L356.1 1487.9L356.5 1492.2L352.9 1492.2L353.6 1496.6L351.8 1497.9L350.6 1500.9L347 1501.1L345.5 1503.1L345.4 1507.4L345 1509.7L343 1511.3L338.9 1511.4L337.3 1514.9L337.5 1518.2L335.8 1520L333.8 1520.9L330.9 1522.7L331.6 1526.1L330.6 1527.9L326.3 1529.5L328 1533.4L325.3 1533.1L326.2 1537.2L321.7 1538.6L323.4 1541.5L319.8 1542.2L321.9 1546.4L318.2 1548.4L316.9 1549.2L318.5 1553.1L315.6 1555.1L313 1557.2L313 1560.3L313.2 1563.8L309.4 1564.7L308.8 1566.3L310 1570.6L306.2 1571.1L303.6 1573.8L303 1575.9L303.2 1579.9L301.8 1581.6L298 1582.4L298.1 1586.2L296.6 1587.5L294.3 1589.6L294.2 1592.7L290.9 1593.8L290 1595.9L286.8 1595.8L285.4 1598.8L285.8 1602L284.1 1605L282.5 1607.3L280.5 1607.7L277.8 1609.6L276.4 1610.9L275.7 1613.4L275.7 1617.3L273.9 1619L271.1 1621.2L270.4 1623.4L267.9 1624.3L265.8 1625.7L266 1630.5L265.4 1632.4L263.6 1635.5L260.4 1634.8" stroke="#0000FF" stroke-width="5.6" fill="none" stroke-linecap="round" stroke-linejoin="round"/>
<path d="M597.1 1131.1L595.2 1133.2L592.4 1133.6L590.6 1135.8L590.9 1139.4L587.3 1139.8L584.5 1141.4L585.1 1144.2L583.7 1147.7L580.3 1147.9L579.6 1150.5L578.7 1153.2L577.3 1155.6L573.9 1156.4L574.3 1158.7L571.9 1161.4L569.7 1163.2L568.8 1165.1L565.8 1165.8L566.7 1170.3L563.8 1171.3L562.7 1173.7L560.4 1176.1L558.5 1177.5L557.9 1180.9L556.7 1182.6L553.5 1183.6L553.5 1187L551 1188.8L549.7 1190.3L546.9 1191.5L547.1 1195.7L544.3 1195.5L545.4 1200.7L541.4 1200.2L541.8 1204.4L538.3 1204.1L538 1208L537.3 1210.4L535.7 1212.7L534 1213.9L531.6 1215.4L530.7 1218.1L527.8 1219.3L524.9 1220.5L525.1 1223.6L522.6 1226.1" stroke="#0000FF" stroke-width="5.6" fill="none" stroke-linecap="round" stroke-linejoin="round"/>
<path d="M410.2 1395.2L407.8 1397.8L407.3 1400.9L406 1402.6L403 1404.4L399.7 1405L400.7 1408.1L397 1409.1L396 1412L396.5 1414.9L392.3 1415.1L391.4 1417.4L392.9 1422L390.4 1423.8L387.7 1424.2L387.2 1427.5L384 1429.7L382.9 1431.9L383.9 1435.1L382.1 1436.7L381.7 1439.9L378.4 1440.5L379.4 1443.8L377.9 1446.4L377.5 1449.6L375.2 1451.6L374.3 1454.1L370.7 1453.9L371.1 1458.7L370.1 1460L369.4 1463.5L367.4 1465.4L365.7 1466.2L362.2 1468.5L362 1470.9L360.4 1473.6L361.7 1476.2L358.1 1477.4L355.5 1479.7L356.5 1482L354.4 1484.7L352.9 1487.2L351.8 1489.8L350.6 1490.7L348.3 1492.4L345.9 1495.3L347.6 1498.3L344 1499.5L343.4 1502.8L342.5 1504.3L339.5 1506.8L337.2 1506.8L336.2 1509.8L333.8 1511.4L335.4 1515.7L332.5 1516.5L330 1518.2L328.7 1520.3L327.7 1523.7L327.7 1526.1L323.8 1527L324.2 1530.6L321.4 1532.5L320.6 1535.1L318.1 1536.9L317 1538.9L317 1541.3L317.9 1545.5L316 1546.5L314.1 1549.3L312.4 1550.2L310.9 1553.9L309 1555.8L309.5 1558.9L308.2 1561.1L305.8 1561.9L307.4 1566.6L302.9 1567.1L303.6 1569.8L303 1573.4L301.6 1574.2L300 1577.8L297.4 1579L297.4 1581.6L293.2 1582.3L293.8 1585.5L289.6 1586.5L290.9 1590.1L286.5 1590.1L285.5 1592L285.3 1594.5L282.1 1596.5L282.4 1600.7L281.6 1601.6L278.2 1602.5L276.8 1604.9L277.1 1609.4L273.5 1610L271.7 1612L272.4 1615.1L269 1616.8L267.7 1618.4L265.3 1620.6L266.5 1623.3L265.3 1627L263.4 1628.3L260.7 1629.8L257.7 1631L259.3 1634.7" stroke="#0000FF" stroke-width="5.6" fill="none" stroke-linecap="round" stroke-linejoin="round"/>
<path d="M593.8 1128.1L592.6 1131.1L593.3 1133.7L590.2 1134.7L588.5 1138.2L585.9 1137.9L586.7 1142.2L582.7 1141.8L582.9 1145.6L581.2 1148.4L579.4 1150.1L575.5 1151L574.8 1154L572.6 1155.6L572.5 1158L569.1 1160L567.9 1161.4L567.8 1164.2L565.9 1167.5L562.1 1168L562.2 1170.8L561.8 1173.2L561 1175.6L559.3 1177L555.4 1177.3L553.6 1180.4L554.7 1184.1L549.5 1184.4L549.5 1187.4L547.9 1188.5L546.6 1191.4L545.4 1194.3L543.8 1196.3L544 1199L542.4 1201.4L538 1201.3L537.5 1204.2L537.3 1206.9L534.2 1208.2L533.3 1210.4L531.6 1212.6L528.9 1213.1L526.5 1215.6L525 1218.2L524 1220.8L523.3 1222.4L519.8 1222.2L517.9 1225.7L515.2 1226.5L515.9 1229.8L513.5 1230.7L513 1235.4L510 1234.9L508.9 1237.6L505.7 1238.4L504.1 1241.5L504.4 1244.1L501.9 1245.8L500.1 1247.6L497.8 1249.4L498.2 1253.6L494.1 1253.7L493.6 1257L491.5 1257L491.5 1260.3L490.3 1263.1L488 1265.5L485.4 1266.1L486.3 1271.4L482.4 1271L483.8 1274.2L478.9 1275L477.5 1277.7L476.4 1280.2L477.3 1282.8L474.7 1285.3L472 1286.7L471.6 1289L471.5 1292.4L468.5 1293.4L466.5 1296.2L465 1296.8L465.9 1301.3L463.3 1302.2L460.9 1304.3L460.6 1306.4L461.3 1309.7L457.7 1311.7L455.8 1313.8L457.2 1317L455.9 1319L455.4 1322.5L453.5 1324.1L450.9 1325.4L450.7 1328.3L449.6 1331.3L449.4 1333.7L447.8 1336.3L445.5 1338.5L443.7 1339.9L442 1342.3L440.1 1343.8L441.6 1346.9L437.3 1347.7L434.9 1349.7L433.9 1352.4L432 1354.1L430.8 1356L432.1 1359.4L430 1362.6L427.8 1362.6L428.2 1366.9L425 1367.6L425.5 1371L420.4 1371.6L419.5 1373.3L418.6 1375.7L417.8 1379.7L417.2 1381.2L415.1 1384.1L412.2 1384.6L410.2 1386.1L408.1 1388.4L409.2 1391.4L406.6 1393.1L403.9 1394.8L402.5 1396.9L402.4 1400.5L398.4 1400.5L398.2 1402.8L398.5 1406.8L394.9 1408.1L394 1410.3L394.3 1412.8L392.5 1415.3L390.8 1417L388.8 1419.3L385.2 1421.3L383.3 1423L386.2 1426.7L380.7 1427.6L380.4 1429.6L381.6 1433L379.1 1435.1L378.3 1437.2L378.6 1440.8L373.7 1441.7L374.3 1443.8L373.3 1446.9L371.3 1448.7L369.5 1450.5L368.7 1452.5L368.9 1457.1L365.3 1457.2L366 1461.8L363.8 1462L360.6 1464L362 1467.7L360.3 1469.9L359 1471.7L356.5 1473.2L354.4 1475.8L353.1 1476.9L351.6 1480.1L352.6 1484.1L350.6 1484.6L349.6 1488.6L346.7 1488.3L345.1 1490L343.8 1493.3L341.5 1495.4L340.5 1497.7L339.8 1500.6L338.6 1502.5L336.2 1503.4L334.1 1505.7L335 1509.4L332.3 1510.7L332.2 1514.1L329.3 1515.3L329 1517L326.1 1519.4L323.6 1520.7L322 1522.2L323.2 1526.6L319.5 1528.2L320.6 1531.6L318.3 1533.3L318.3 1535.6L314.9 1537.3L312.3 1539.3L313.9 1542.4L311.9 1545L311.6 1548.5L309.6 1550.1L307.8 1552.2L308.9 1555.8L306.3 1556L305.3 1558.1L304.7 1560.7L304.6 1564.3L300 1565L298.2 1566.9L298.1 1569.6L295.9 1570.2L295.6 1573.9L295.5 1577.8L292.2 1577.4L290.1 1579.4L288.7 1581.7L286.7 1583.4L287.5 1587.9L285.6 1589.3L281.4 1589.7L282.7 1594.3L278.4 1593.5L279.3 1597.5L277.1 1598.4L273.9 1600.6L273.8 1604.1L273.1 1606.9L269.5 1606.8L270.7 1610.8L269.2 1613.2L267.6 1615.2L265.3 1616.5L263 1618.5L260.6 1619.8L260 1623.1L260.2 1626.1L258.7 1628.2L255.7 1630.1L253.1 1630.3" stroke="#0000FF" stroke-width="5.6" fill="none" stroke-linecap="round" stroke-linejoin="round"/>
<path d="M592.8 1128.1L592.4 1129.9L591.5 1133.5L588.8 1133.3L588.3 1138.1L586.9 1139.9L584.5 1141.2L580.9 1141.6L581 1144.5L578.2 1146.2L577.3 1148.6L575.3 1149.9L574.5 1153.3L573 1155.5L568.6 1156L569.2 1159L565.2 1159.3L563.4 1161.2L562.7 1163.6L561.2 1167.2L560.4 1169.5L557.4 1171.2L559 1174.4L558.1 1176.7L556.4 1178.2L553.2 1178.8L553.3 1182L549.1 1182.6L549.7 1187.2L545.8 1187.6L544.9 1190.1L542.9 1191.6L540.6 1194L538.9 1196.3L537.8 1198L537.3 1201.2L536.3 1202.1L533.4 1203.4L533 1206.8L532.5 1209.9L528.9 1210.6L527.5 1211.8L525.1 1214.6L523.1 1216.2L523.5 1219.8L521.6 1220.6L519.4 1222.2L518.5 1224.9L516.2 1226.4L512.7 1226.6L513 1230.3L510.1 1231.7L508.3 1233.6L507.5 1236.9L505.9 1239.8L503 1240L500.9 1242.8L500 1244.4L499.4 1247.2L495.6 1248.2L495.6 1252L495 1253.8L490.7 1255L491.1 1256.7L488.8 1259.2L489.3 1262.6L485 1262.1L485.9 1266.3L482 1267L480.6 1270L481.7 1273.5L479.5 1275.9L477.1 1276.6L474 1278.7L476 1281.7L473.4 1283.6L471.4 1285.7L467.8 1287L466.5 1289.3L467.9 1293.2L466.8 1295.6L465.2 1298.5L463.3 1300.4L462.9 1301.9L461.1 1305L457.6 1306L457.8 1308.1L458 1310.9L454 1312L453.7 1314.5L453.7 1318.6L453.3 1320.4L449.1 1321.5L451 1326.2L446.1 1326.2L448.6 1330.3L445.3 1331.1L444.3 1334.4L442 1336.2L439.8 1337.3L438.7 1338.9L438.5 1342.9L435.7 1343.8L435.8 1347.7L434.9 1348.6L433.3 1351.1L430.6 1353.5L431.8 1356.4L426.8 1357.2L426.1 1359L423.5 1361.3L422.8 1363.4L422.3 1365.4L423.1 1368.9L421.1 1371.6L416.2 1371.6L415.1 1374.4L413.5 1375.4L413 1379.5L412.2 1381.7L410.9 1382.9L410 1385.7L408.5 1388.9L406.4 1389.3L403.5 1389.9L401.6 1392.6L402.4 1396.4L398 1395.6L398.7 1399.8L395.9 1401.1L393.3 1402.8L391.5 1404.4L392.6 1408.3L391.6 1411.2L387.7 1412.6L386 1414.2L384.4 1417.8L384.7 1419.7L383.3 1423.4L380.6 1424.1L380.1 1426.2L379.4 1429.9L378.2 1432L374.7 1432.5L374.7 1436.5L372.3 1438.4L370.7 1439.9L372.1 1443.5L368.4 1443.9L369.6 1447.5L366.2 1448.3L367.3 1452.8L363.9 1453.5L362.3 1456.1L362.8 1458.3L359.9 1460.7L357.5 1462.4L360 1465.9L357.3 1468.4L356.4 1469.9L355.4 1472.5L352.6 1474.6L350.4 1475.1L349.4 1479.2L349.3 1480.6L346.4 1483.1L347.9 1485.7L345.3 1487.6L344.8 1489.8L341.5 1492.3L340.1 1493.1L337.2 1494.2L338.7 1498.2L336.8 1501.6L333.4 1502.5L332.7 1503.4L331.4 1506.3L330.9 1508.6L326.6 1510.4L324.8 1511.1L324.3 1514.1L321.3 1516.7L323.5 1520L318.1 1521.3L317.5 1522.5L316.4 1526.4L315.3 1528.6L313.5 1530L312.4 1534.2L311.7 1535.8L311.8 1539.8L308.5 1541.3L306.4 1542.8L305.7 1545.6L305.3 1547.5L304.3 1550.5L304.8 1553.5L302.6 1554.5L301.7 1557.8L302.6 1559.5L299.7 1560.7L296.4 1563.1L297.4 1565.5L294.4 1567.6L293.1 1569.7L293 1572L290 1573.5L290 1575.8L286.5 1577.1L286.4 1579.4L285.6 1581.8L284.4 1584.2L282.4 1587L279.4 1588.5L278.3 1589.9L276.9 1593.2L277.1 1595.4L274.1 1596.4L272.7 1598.8L269.7 1601.3L269.1 1603.9L269.6 1606.2L266.9 1608.9L265.2 1610.5L261.5 1611.2L261.8 1614.5L259.3 1616.1L258.7 1618L255.1 1619.9L254 1622.4L255.2 1625.7L252.6 1626.6L250.1 1628.6" stroke="#0000FF" stroke-width="5.6" fill="none" stroke-linecap="round" stroke-linejoin="round"/>
<path d="M521.5 1231.4L519.6 1228.1L517.3 1225.1L515.7 1221.6" stroke="#0000FF" stroke-width="5.5" fill="none" stroke-linecap="round" stroke-linejoin="round"/>
<path d="M324.8 1519.5L320.8 1507.5" stroke="#0000FF" stroke-width="6.0" fill="none" stroke-linecap="round" stroke-linejoin="round"/>
<path d="M283.9 1584.5L279.9 1572.5" stroke="#0000FF" stroke-width="6.0" fill="none" stroke-linecap="round" stroke-linejoin="round"/>
<path d="M257 1630L253 1618" stroke="#0000FF" stroke-width="6.0" fill="none" stroke-linecap="round" stroke-linejoin="round"/>
<path d="M247 1638.5L243 1626.5" stroke="#0000FF" stroke-width="6.0" fill="none" stroke-linecap="round" stroke-linejoin="round"/>
<path d="M239.4 1629L239.4 1648L240.5 1660L239.6 1676L243 1680.5L246 1676.5L247.5 1669L252 1663L253 1655L258 1650L259 1643L264.5 1639L268 1628L250 1618Z" fill="#0000FF" stroke="#0000FF" stroke-width="1.5" stroke-linejoin="round"/>
</g>
<g clip-path="url(#clip-d)">
<path d="M1374.1 1395.5C1375.2 1397.8 1375.8 1400.8 1377.6 1402.4C1379.3 1404.1 1382 1405.2 1384.5 1405.2C1387.1 1405.2 1389.9 1404.3 1392.9 1402.4C1395.9 1400.6 1398.7 1397.6 1402.6 1394.1C1406.6 1390.6 1411.4 1386.1 1416.5 1381.6C1421.7 1377 1427.9 1371.7 1433.6 1366.7C1439.2 1361.7 1444.9 1356.7 1450.5 1351.7C1456.2 1346.6 1461.8 1341.6 1467.5 1336.6C1473.1 1331.5 1478.8 1326.5 1484.4 1321.4C1490 1316.4 1495.7 1311.3 1501.3 1306.2C1507 1301.2 1512.6 1296.1 1518.3 1291.1C1524 1286 1529.6 1281 1535.3 1275.9C1541 1270.9 1546.7 1265.8 1552.4 1260.8C1558.1 1255.8 1563.8 1250.8 1569.5 1245.8C1575.2 1240.8 1581 1235.9 1586.8 1230.9C1592.5 1226 1598.3 1221.1 1604.1 1216.2C1609.9 1211.3 1615.8 1206.4 1621.6 1201.6C1627.5 1196.8 1633.4 1192 1639.3 1187.2C1645.2 1182.4 1651.1 1177.7 1657.1 1173C1663.1 1168.4 1669.1 1163.7 1675.1 1159.1C1681.2 1154.5 1687.2 1150 1693.4 1145.5C1699.5 1141 1705.6 1136.6 1711.8 1132.2C1718 1127.8 1724.3 1123.5 1730.5 1119.2C1736.8 1114.9 1743.1 1110.7 1749.5 1106.6C1755.9 1102.4 1762.3 1098.4 1768.8 1094.4C1775.3 1090.5 1781.8 1086.6 1788.4 1082.9C1794.9 1079.2 1801.6 1075.6 1808.3 1072.1C1814.9 1068.7 1821.7 1065.3 1828.5 1062.2C1835.3 1059.1 1842.2 1056.1 1849.1 1053.3C1856 1050.5 1863 1047.9 1870.1 1045.5C1877.1 1043.2 1884.3 1041 1891.5 1039.1C1898.7 1037.1 1905.9 1035.4 1913.3 1034C1920.6 1032.5 1928 1031.2 1935.5 1030.3C1943 1029.3 1950.5 1028.5 1958.2 1028C1965.8 1027.5 1973.5 1027.3 1981.3 1027.3C1989.2 1027.3 1995.2 1028.1 2005 1028.2C2014.8 1028.3 2024.2 1028.1 2040 1028C2055.8 1027.9 2053.3 1027.9 2100 1027.9C2146.7 1027.9 2246.7 1027.9 2320 1027.9" stroke="#F0802A" stroke-width="6.3" fill="none" stroke-linecap="round" stroke-linejoin="round"/>
<path d="M1375.3 1461.8C1375.4 1458.7 1375.2 1455.6 1375.7 1452.5C1376.2 1449.4 1377.1 1445.8 1378.1 1443.2C1379.1 1440.6 1378.9 1439.8 1381.8 1436.7C1384.7 1433.6 1390.9 1429.6 1395.7 1424.7C1400.4 1419.9 1405.4 1413.3 1410.4 1407.6C1415.3 1401.9 1420.3 1396.2 1425.3 1390.5C1430.3 1384.9 1435.4 1379.2 1440.5 1373.5C1445.6 1367.9 1450.7 1362.2 1455.9 1356.6C1461 1351 1466.2 1345.4 1471.5 1339.8C1476.8 1334.2 1482 1328.7 1487.4 1323.1C1492.7 1317.6 1498.1 1312.1 1503.5 1306.6C1508.9 1301.2 1514.4 1295.7 1519.9 1290.4C1525.4 1285 1530.9 1279.6 1536.5 1274.3C1542.1 1269 1547.7 1263.7 1553.4 1258.5C1559 1253.3 1564.8 1248.1 1570.5 1243C1576.3 1237.9 1582.1 1232.8 1587.9 1227.8C1593.7 1222.8 1599.6 1217.8 1605.5 1212.9C1611.5 1208 1617.4 1203.2 1623.5 1198.4C1629.5 1193.7 1635.5 1189 1641.6 1184.3C1647.8 1179.7 1653.9 1175.1 1660.1 1170.7C1666.3 1166.2 1672.5 1161.8 1678.8 1157.5C1685.1 1153.1 1691.5 1148.9 1697.8 1144.7C1704.2 1140.6 1710.6 1136.5 1717.1 1132.5C1723.6 1128.5 1730.1 1124.6 1736.7 1120.8C1743.2 1117 1749.9 1113.3 1756.5 1109.7C1763.2 1106.1 1769.9 1102.6 1776.7 1099.2C1783.4 1095.8 1790.2 1092.5 1797.1 1089.3C1803.9 1086.2 1810.8 1083.1 1817.8 1080.1C1824.7 1077.2 1831.7 1074.3 1838.7 1071.6C1845.8 1068.8 1852.9 1066.2 1860 1063.7C1867.1 1061.2 1874.3 1058.9 1881.5 1056.6C1888.8 1054.4 1896 1052.3 1903.4 1050.3C1910.7 1048.3 1918 1046.5 1925.4 1044.8C1932.9 1043.1 1940.3 1041.5 1947.8 1040.1C1955.3 1038.6 1962.9 1037.3 1970.4 1036.2C1978 1035.1 1985.7 1034.1 1993.4 1033.2C2001 1032.4 2008.8 1031.7 2016.5 1031.1C2024.3 1030.6 2031.1 1030.3 2040 1030C2048.9 1029.7 2060 1029.5 2070 1029.3C2080 1029.1 2078.3 1029.2 2100 1029C2121.7 1028.8 2163.3 1028.6 2200 1028.3C2236.7 1028 2280 1027.4 2320 1027" stroke="#05D28C" stroke-width="6.3" fill="none" stroke-linecap="round" stroke-linejoin="round"/>
<path d="M1375.3 1659.7C1375.4 1657.6 1375.1 1655.5 1375.7 1653.2C1376.3 1651 1377.5 1647.6 1379 1646.2C1380.5 1644.8 1382.4 1645.9 1384.6 1644.9C1386.8 1643.9 1389.9 1642.9 1392 1640.2C1394.2 1637.6 1394.8 1633.1 1397.6 1629.1C1400.4 1625 1404.5 1621.2 1408.8 1616.1C1413 1610.9 1418.3 1604.2 1423 1598.2C1427.7 1592.2 1432.4 1586.1 1437 1580C1441.6 1573.9 1446.2 1567.8 1450.7 1561.7C1455.2 1555.5 1459.7 1549.3 1464.2 1543.1C1468.6 1536.9 1473 1530.7 1477.4 1524.4C1481.8 1518.1 1486.2 1511.8 1490.5 1505.5C1494.8 1499.2 1499.1 1492.9 1503.4 1486.5C1507.7 1480.1 1512 1473.8 1516.2 1467.4C1520.5 1461 1524.7 1454.6 1528.9 1448.2C1533.2 1441.8 1537.4 1435.4 1541.6 1429C1545.8 1422.5 1550 1416.1 1554.2 1409.7C1558.4 1403.3 1562.6 1396.8 1566.8 1390.4C1571 1384 1575.2 1377.5 1579.5 1371.1C1583.7 1364.7 1587.9 1358.3 1592.2 1351.9C1596.4 1345.5 1600.7 1339.1 1604.9 1332.7C1609.2 1326.4 1613.5 1320 1617.8 1313.7C1622.2 1307.3 1626.5 1301 1630.9 1294.7C1635.3 1288.4 1639.7 1282.1 1644.1 1275.9C1648.5 1269.6 1653 1263.4 1657.5 1257.2C1662 1251 1666.6 1244.9 1671.2 1238.7C1675.8 1232.6 1680.4 1226.5 1685.1 1220.5C1689.8 1214.4 1694.5 1208.4 1699.3 1202.4C1704.1 1196.4 1709 1190.5 1713.9 1184.6C1718.8 1178.7 1723.7 1172.9 1728.8 1167.1C1733.8 1161.4 1738.9 1155.7 1744.1 1150.1C1749.3 1144.5 1754.6 1138.9 1760 1133.6C1765.4 1128.2 1770.9 1122.9 1776.5 1117.8C1782.1 1112.6 1787.8 1107.6 1793.6 1102.8C1799.5 1098 1805.4 1093.3 1811.5 1088.8C1817.6 1084.4 1823.9 1080.1 1830.2 1076C1836.6 1071.9 1843.1 1068.1 1849.7 1064.4C1856.3 1060.8 1863 1057.4 1869.9 1054.3C1876.8 1051.2 1883.8 1048.3 1890.9 1045.7C1898 1043.1 1905.2 1040.7 1912.5 1038.7C1919.8 1036.6 1927.3 1034.8 1934.8 1033.4C1942.3 1031.9 1950 1030.8 1957.7 1029.9C1965.4 1029.1 1973.2 1028.6 1981.1 1028.4C1989 1028.2 1995.2 1028.9 2005 1028.9C2014.8 1028.9 2024.2 1028.4 2040 1028.2C2055.8 1028 2053.3 1028 2100 1027.9C2146.7 1027.9 2246.7 1027.9 2320 1027.9" stroke="#70500C" stroke-width="6.3" fill="none" stroke-linecap="round" stroke-linejoin="round"/>
<path d="M2010 1028.7L2040 1028.2L2320 1027.9" stroke="#70500C" stroke-width="7.2" fill="none" stroke-linecap="butt" stroke-linejoin="round"/>
<path d="M2040 1028.2L2320 1027.9" stroke="#70500C" stroke-width="8.0" fill="none" stroke-linecap="butt" stroke-linejoin="round"/>
<path d="M2075 1028.1L2320 1027.9" stroke="#70500C" stroke-width="8.8" fill="none" stroke-linecap="butt" stroke-linejoin="round"/>
</g>
</g>
<g id="panel-a">
<rect x="183.5" y="66.3" width="983.1" height="751.9" fill="none" stroke="#000" stroke-width="2.6"/>
<path d="M183.5 818.2v13.8M306.4 818.2v7M429.3 818.2v13.8M552.2 818.2v7M675 818.2v13.8M797.9 818.2v7M920.8 818.2v13.8M1043.7 818.2v7M1166.6 818.2v13.8M183.5 66.3h-12.6M183.5 108.1h-6M183.5 149.8h-12.6M183.5 191.6h-6M183.5 233.4h-12.6M183.5 275.2h-6M183.5 316.9h-12.6M183.5 358.7h-6M183.5 400.5h-12.6M183.5 442.2h-6M183.5 484h-12.6M183.5 525.8h-6M183.5 567.6h-12.6M183.5 609.3h-6M183.5 651.1h-12.6M183.5 692.9h-6M183.5 734.7h-12.6M183.5 776.4h-6M183.5 818.2h-12.6" stroke="#000" stroke-width="2.6" fill="none"/>
<g font-family='"Liberation Serif", serif' font-size="46" fill="#000">
<text x="182.7" y="875.6" text-anchor="middle"><tspan dy="5.4" font-size="50">−</tspan><tspan dy="-5.4" dx="-3.6">1.5</tspan></text>
<text x="428.5" y="875.6" text-anchor="middle"><tspan dy="5.4" font-size="50">−</tspan><tspan dy="-5.4" dx="-3.6">1.0</tspan></text>
<text x="674.2" y="875.6" text-anchor="middle"><tspan dy="5.4" font-size="50">−</tspan><tspan dy="-5.4" dx="-3.6">0.5</tspan></text>
<text x="920" y="875.6" text-anchor="middle">0.0</text>
<text x="1165.8" y="875.6" text-anchor="middle">0.5</text>
<text x="160.2" y="77.3" text-anchor="end">5</text>
<text x="160.2" y="160.8" text-anchor="end">0</text>
<text x="160.2" y="244.4" text-anchor="end"><tspan dy="5.4" font-size="50">−</tspan><tspan dy="-5.4" dx="-3.6">5</tspan></text>
<text x="160.2" y="327.9" text-anchor="end"><tspan dy="5.4" font-size="50">−</tspan><tspan dy="-5.4" dx="-3.6">10</tspan></text>
<text x="160.2" y="411.5" text-anchor="end"><tspan dy="5.4" font-size="50">−</tspan><tspan dy="-5.4" dx="-3.6">15</tspan></text>
<text x="160.2" y="495" text-anchor="end"><tspan dy="5.4" font-size="50">−</tspan><tspan dy="-5.4" dx="-3.6">20</tspan></text>
<text x="160.2" y="578.6" text-anchor="end"><tspan dy="5.4" font-size="50">−</tspan><tspan dy="-5.4" dx="-3.6">25</tspan></text>
<text x="160.2" y="662.1" text-anchor="end"><tspan dy="5.4" font-size="50">−</tspan><tspan dy="-5.4" dx="-3.6">30</tspan></text>
<text x="160.2" y="745.7" text-anchor="end"><tspan dy="5.4" font-size="50">−</tspan><tspan dy="-5.4" dx="-3.6">35</tspan></text>
<text x="160.2" y="829.2" text-anchor="end"><tspan dy="5.4" font-size="50">−</tspan><tspan dy="-5.4" dx="-3.6">40</tspan></text>
</g>
</g>
<g id="panel-b">
<rect x="1333.3" y="62" width="981.7" height="749.3" fill="none" stroke="#000" stroke-width="2.6"/>
<path d="M1333.3 811.3v13.8M1456 811.3v7M1578.7 811.3v13.8M1701.4 811.3v7M1824.2 811.3v13.8M1946.9 811.3v7M2069.6 811.3v13.8M2192.3 811.3v7M2315 811.3v13.8M1333.3 62h-12.6M1333.3 103.6h-6M1333.3 145.3h-12.6M1333.3 186.9h-6M1333.3 228.5h-12.6M1333.3 270.1h-6M1333.3 311.8h-12.6M1333.3 353.4h-6M1333.3 395h-12.6M1333.3 436.6h-6M1333.3 478.3h-12.6M1333.3 519.9h-6M1333.3 561.5h-12.6M1333.3 603.2h-6M1333.3 644.8h-12.6M1333.3 686.4h-6M1333.3 728h-12.6M1333.3 769.7h-6M1333.3 811.3h-12.6" stroke="#000" stroke-width="2.6" fill="none"/>
<g font-family='"Liberation Serif", serif' font-size="46" fill="#000">
<text x="1332.5" y="869.4" text-anchor="middle"><tspan dy="5.4" font-size="50">−</tspan><tspan dy="-5.4" dx="-3.6">1.5</tspan></text>
<text x="1577.9" y="869.4" text-anchor="middle"><tspan dy="5.4" font-size="50">−</tspan><tspan dy="-5.4" dx="-3.6">1.0</tspan></text>
<text x="1823.4" y="869.4" text-anchor="middle"><tspan dy="5.4" font-size="50">−</tspan><tspan dy="-5.4" dx="-3.6">0.5</tspan></text>
<text x="2068.8" y="869.4" text-anchor="middle">0.0</text>
<text x="2314.2" y="869.4" text-anchor="middle">0.5</text>
<text x="1310" y="73" text-anchor="end">5</text>
<text x="1310" y="156.3" text-anchor="end">0</text>
<text x="1310" y="239.5" text-anchor="end"><tspan dy="5.4" font-size="50">−</tspan><tspan dy="-5.4" dx="-3.6">5</tspan></text>
<text x="1310" y="322.8" text-anchor="end"><tspan dy="5.4" font-size="50">−</tspan><tspan dy="-5.4" dx="-3.6">10</tspan></text>
<text x="1310" y="406" text-anchor="end"><tspan dy="5.4" font-size="50">−</tspan><tspan dy="-5.4" dx="-3.6">15</tspan></text>
<text x="1310" y="489.3" text-anchor="end"><tspan dy="5.4" font-size="50">−</tspan><tspan dy="-5.4" dx="-3.6">20</tspan></text>
<text x="1310" y="572.5" text-anchor="end"><tspan dy="5.4" font-size="50">−</tspan><tspan dy="-5.4" dx="-3.6">25</tspan></text>
<text x="1310" y="655.8" text-anchor="end"><tspan dy="5.4" font-size="50">−</tspan><tspan dy="-5.4" dx="-3.6">30</tspan></text>
<text x="1310" y="739" text-anchor="end"><tspan dy="5.4" font-size="50">−</tspan><tspan dy="-5.4" dx="-3.6">35</tspan></text>
<text x="1310" y="822.3" text-anchor="end"><tspan dy="5.4" font-size="50">−</tspan><tspan dy="-5.4" dx="-3.6">40</tspan></text>
</g>
</g>
<g id="panel-c">
<rect x="187.6" y="991.4" width="973.4" height="734.3" fill="none" stroke="#000" stroke-width="2.6"/>
<path d="M187.6 1725.7v13.8M309.3 1725.7v7M430.9 1725.7v13.8M552.6 1725.7v7M674.3 1725.7v13.8M796 1725.7v7M917.6 1725.7v13.8M1039.3 1725.7v7M1161 1725.7v13.8M187.6 991.4h-12.6M187.6 1032.2h-6M187.6 1073h-12.6M187.6 1113.8h-6M187.6 1154.6h-12.6M187.6 1195.4h-6M187.6 1236.2h-12.6M187.6 1277h-6M187.6 1317.8h-12.6M187.6 1358.5h-6M187.6 1399.3h-12.6M187.6 1440.1h-6M187.6 1480.9h-12.6M187.6 1521.7h-6M187.6 1562.5h-12.6M187.6 1603.3h-6M187.6 1644.1h-12.6M187.6 1684.9h-6M187.6 1725.7h-12.6" stroke="#000" stroke-width="2.6" fill="none"/>
<g font-family='"Liberation Serif", serif' font-size="46" fill="#000">
<text x="186.8" y="1781.7" text-anchor="middle"><tspan dy="5.4" font-size="50">−</tspan><tspan dy="-5.4" dx="-3.6">1.5</tspan></text>
<text x="430.1" y="1781.7" text-anchor="middle"><tspan dy="5.4" font-size="50">−</tspan><tspan dy="-5.4" dx="-3.6">1.0</tspan></text>
<text x="673.5" y="1781.7" text-anchor="middle"><tspan dy="5.4" font-size="50">−</tspan><tspan dy="-5.4" dx="-3.6">0.5</tspan></text>
<text x="916.9" y="1781.7" text-anchor="middle">0.0</text>
<text x="1160.2" y="1781.7" text-anchor="middle">0.5</text>
<text x="164.3" y="1002.4" text-anchor="end">5</text>
<text x="164.3" y="1084" text-anchor="end">0</text>
<text x="164.3" y="1165.6" text-anchor="end"><tspan dy="5.4" font-size="50">−</tspan><tspan dy="-5.4" dx="-3.6">5</tspan></text>
<text x="164.3" y="1247.2" text-anchor="end"><tspan dy="5.4" font-size="50">−</tspan><tspan dy="-5.4" dx="-3.6">10</tspan></text>
<text x="164.3" y="1328.8" text-anchor="end"><tspan dy="5.4" font-size="50">−</tspan><tspan dy="-5.4" dx="-3.6">15</tspan></text>
<text x="164.3" y="1410.3" text-anchor="end"><tspan dy="5.4" font-size="50">−</tspan><tspan dy="-5.4" dx="-3.6">20</tspan></text>
<text x="164.3" y="1491.9" text-anchor="end"><tspan dy="5.4" font-size="50">−</tspan><tspan dy="-5.4" dx="-3.6">25</tspan></text>
<text x="164.3" y="1573.5" text-anchor="end"><tspan dy="5.4" font-size="50">−</tspan><tspan dy="-5.4" dx="-3.6">30</tspan></text>
<text x="164.3" y="1655.1" text-anchor="end"><tspan dy="5.4" font-size="50">−</tspan><tspan dy="-5.4" dx="-3.6">35</tspan></text>
<text x="164.3" y="1736.7" text-anchor="end"><tspan dy="5.4" font-size="50">−</tspan><tspan dy="-5.4" dx="-3.6">40</tspan></text>
</g>
</g>
<g id="panel-d">
<rect x="1338.7" y="994.3" width="981.7" height="725.9" fill="none" stroke="#000" stroke-width="2.6"/>
<path d="M1338.7 1720.2v13.8M1420.5 1720.2v7M1502.3 1720.2v13.8M1584.1 1720.2v7M1665.9 1720.2v13.8M1747.7 1720.2v7M1829.6 1720.2v13.8M1911.4 1720.2v7M1993.2 1720.2v13.8M2075 1720.2v7M2156.8 1720.2v13.8M2238.6 1720.2v7M2320.4 1720.2v13.8M1338.7 1027.9h-12.6M1338.7 1097.1h-6M1338.7 1166.4h-12.6M1338.7 1235.6h-6M1338.7 1304.8h-12.6M1338.7 1374h-6M1338.7 1443.3h-12.6M1338.7 1512.5h-6M1338.7 1581.7h-12.6M1338.7 1651h-6M1338.7 1720.2h-12.6" stroke="#000" stroke-width="2.6" fill="none"/>
<g font-family='"Liberation Serif", serif' font-size="46" fill="#000">
<text x="1337.9" y="1777.4" text-anchor="middle"><tspan dy="5.4" font-size="50">−</tspan><tspan dy="-5.4" dx="-3.6">2.5</tspan></text>
<text x="1501.5" y="1777.4" text-anchor="middle"><tspan dy="5.4" font-size="50">−</tspan><tspan dy="-5.4" dx="-3.6">2.0</tspan></text>
<text x="1665.1" y="1777.4" text-anchor="middle"><tspan dy="5.4" font-size="50">−</tspan><tspan dy="-5.4" dx="-3.6">1.5</tspan></text>
<text x="1828.8" y="1777.4" text-anchor="middle"><tspan dy="5.4" font-size="50">−</tspan><tspan dy="-5.4" dx="-3.6">1.0</tspan></text>
<text x="1992.4" y="1777.4" text-anchor="middle"><tspan dy="5.4" font-size="50">−</tspan><tspan dy="-5.4" dx="-3.6">0.5</tspan></text>
<text x="2156" y="1777.4" text-anchor="middle">0.0</text>
<text x="2319.6" y="1777.4" text-anchor="middle">0.5</text>
<text x="1315.4" y="1038.5" text-anchor="end">0</text>
<text x="1315.4" y="1177" text-anchor="end"><tspan dy="5.4" font-size="50">−</tspan><tspan dy="-5.4" dx="-3.6">20</tspan></text>
<text x="1315.4" y="1315.4" text-anchor="end"><tspan dy="5.4" font-size="50">−</tspan><tspan dy="-5.4" dx="-3.6">40</tspan></text>
<text x="1315.4" y="1453.9" text-anchor="end"><tspan dy="5.4" font-size="50">−</tspan><tspan dy="-5.4" dx="-3.6">60</tspan></text>
<text x="1315.4" y="1592.3" text-anchor="end"><tspan dy="5.4" font-size="50">−</tspan><tspan dy="-5.4" dx="-3.6">80</tspan></text>
<text x="1315.4" y="1730.8" text-anchor="end"><tspan dy="5.4" font-size="50">−</tspan><tspan dy="-5.4" dx="-3.6">100</tspan></text>
</g>
</g>
<text x="549.2" y="966.8" font-family='"Liberation Sans", sans-serif' font-size="61.5" fill="#000" textLength="254.1" lengthAdjust="spacingAndGlyphs">V vs RHE</text>
<text x="1698.8" y="963.5" font-family='"Liberation Sans", sans-serif' font-size="61.5" fill="#000" textLength="252.6" lengthAdjust="spacingAndGlyphs">V vs RHE</text>
<text x="548.8" y="1871.8" font-family='"Liberation Sans", sans-serif' font-size="61.5" fill="#000" textLength="251.7" lengthAdjust="spacingAndGlyphs">V vs RHE</text>
<text x="1645.4" y="1855" font-family='"Liberation Sans", sans-serif' font-size="61.5" fill="#000" textLength="265.5" lengthAdjust="spacingAndGlyphs">V vs RHE</text>
<text transform="translate(75.5 582.2) rotate(-90)" font-family='"Liberation Sans", sans-serif' font-size="60.8" fill="#000" textLength="284.5" lengthAdjust="spacingAndGlyphs">J, mA cm<tspan dy="-21.5" font-size="36" fill="#3c2350" font-family='"Liberation Serif", serif'>−</tspan><tspan font-size="43">2</tspan></text>
<text transform="translate(1229.7 567.2) rotate(-90)" font-family='"Liberation Sans", sans-serif' font-size="60.8" fill="#000" textLength="283.5" lengthAdjust="spacingAndGlyphs">J, mA cm<tspan dy="-21.5" font-size="36" fill="#3c2350" font-family='"Liberation Serif", serif'>−</tspan><tspan font-size="43">2</tspan></text>
<text transform="translate(68.5 1512.2) rotate(-90)" font-family='"Liberation Sans", sans-serif' font-size="60.8" fill="#000" textLength="284.5" lengthAdjust="spacingAndGlyphs">J, mA cm<tspan dy="-21.5" font-size="36" fill="#3c2350" font-family='"Liberation Serif", serif'>−</tspan><tspan font-size="43">2</tspan></text>
<text transform="translate(1224 1498) rotate(-90)" font-family='"Liberation Sans", sans-serif' font-size="60.8" fill="#000" textLength="287.2" lengthAdjust="spacingAndGlyphs">J, mA cm<tspan dy="-24" font-size="36" fill="#3c2350" font-family='"Liberation Serif", serif'>−</tspan><tspan font-size="43">2</tspan></text>
<text x="10.5" y="100.2" font-family='"Liberation Sans", sans-serif' font-weight="bold" font-size="49.8" fill="#000" textLength="60.8" lengthAdjust="spacingAndGlyphs">(a)</text>
<text x="1185.9" y="100.3" font-family='"Liberation Sans", sans-serif' font-weight="bold" font-size="49.8" fill="#000" textLength="61.6" lengthAdjust="spacingAndGlyphs">(b)</text>
<text x="16.2" y="1023.3" font-family='"Liberation Sans", sans-serif' font-weight="bold" font-size="49.8" fill="#000" textLength="56.2" lengthAdjust="spacingAndGlyphs">(c)</text>
<text x="1185.3" y="1030.3" font-family='"Liberation Sans", sans-serif' font-weight="bold" font-size="49.8" fill="#000" textLength="62.3" lengthAdjust="spacingAndGlyphs">(d)</text>
<text x="875.7" y="289" font-family='"Liberation Sans", sans-serif' font-weight="bold" font-size="44.5" fill="#EC9650" textLength="117.6" lengthAdjust="spacingAndGlyphs">Cu-06</text>
<text x="2001" y="289" font-family='"Liberation Sans", sans-serif' font-weight="bold" font-size="44.5" fill="#00B050" textLength="203.8" lengthAdjust="spacingAndGlyphs">CuZ-06-03</text>
<text x="732.3" y="1279.7" font-family='"Liberation Sans", sans-serif' font-weight="bold" font-size="44.5" fill="#8C4510" textLength="297.2" lengthAdjust="spacingAndGlyphs">CuZA-06-03-01</text>
<path d="M201 132H293.6" stroke="#C80000" stroke-width="5.9" stroke-linecap="round" fill="none"/>
<path d="M201 193.7H293.6" stroke="#2038FD" stroke-width="5.9" stroke-linecap="round" fill="none"/>
<text x="304.5" y="146" font-family='"Liberation Sans", sans-serif' font-size="44.3" fill="#000">N<tspan dy="11.5" font-size="30.5">2</tspan></text>
<text x="304.5" y="207.2" font-family='"Liberation Sans", sans-serif' font-size="44.3" fill="#000">CO<tspan dy="11.7" font-size="30.5">2</tspan></text>
<path d="M1346.5 106.9H1436.4" stroke="#C80000" stroke-width="6.0" stroke-linecap="round" fill="none"/>
<path d="M1346.5 169.6H1436.4" stroke="#0000FF" stroke-width="6.0" stroke-linecap="round" fill="none"/>
<text x="1447.8" y="120" font-family='"Liberation Sans", sans-serif' font-size="44.3" fill="#000">N<tspan dy="11.5" font-size="30.5">2</tspan></text>
<text x="1447.8" y="183.1" font-family='"Liberation Sans", sans-serif' font-size="44.3" fill="#000">CO<tspan dy="11.7" font-size="30.5">2</tspan></text>
<path d="M206.2 1025.1H297.9" stroke="#C80000" stroke-width="6.2" stroke-linecap="round" fill="none"/>
<path d="M206.2 1085.3H297.9" stroke="#0000FF" stroke-width="6.2" stroke-linecap="round" fill="none"/>
<text x="308.8" y="1037.7" font-family='"Liberation Sans", sans-serif' font-size="44.3" fill="#000">N<tspan dy="11.5" font-size="30.5">2</tspan></text>
<text x="308.8" y="1098.6" font-family='"Liberation Sans", sans-serif' font-size="44.3" fill="#000">CO<tspan dy="11.7" font-size="30.5">2</tspan></text>
<path d="M1847 1151.4H1944.5" stroke="#F0802A" stroke-width="7" stroke-linecap="round" fill="none"/>
<text x="1956.2" y="1165.6" font-family='"Liberation Sans", sans-serif' font-size="44.5" fill="#F0802A" textLength="118.5" lengthAdjust="spacingAndGlyphs">Cu-06</text>
<path d="M1847 1203H1944.5" stroke="#05D28C" stroke-width="7" stroke-linecap="round" fill="none"/>
<text x="1956.2" y="1215.8" font-family='"Liberation Sans", sans-serif' font-size="44.5" fill="#05D28C" textLength="207.9" lengthAdjust="spacingAndGlyphs">CuZ-06-03</text>
<path d="M1847 1254.3H1944.5" stroke="#70500C" stroke-width="7" stroke-linecap="round" fill="none"/>
<text x="1956.2" y="1267.3" font-family='"Liberation Sans", sans-serif' font-size="44.5" fill="#70500C" textLength="299.8" lengthAdjust="spacingAndGlyphs">CuZA-06-03-01</text>
</svg>
</body></html>
